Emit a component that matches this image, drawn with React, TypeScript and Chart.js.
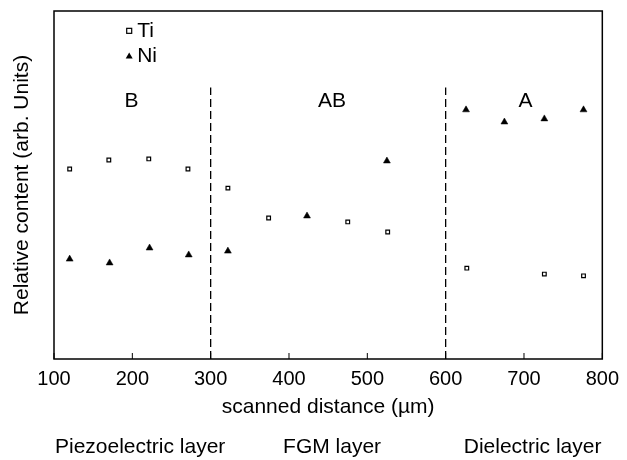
import React, { useEffect, useRef } from "react";
import { Chart, registerables } from "chart.js";

Chart.register(...registerables);

// Data (x in µm, y in arbitrary units 0..100)
const tiX = [120, 170, 221, 271, 322, 374, 475, 526, 627, 726, 776];
const tiY = [54.6, 57.2, 57.5, 54.6, 49.1, 40.5, 39.4, 36.5, 26.1, 24.4, 23.9];
const niX = [120, 171, 222, 272, 322, 423, 525, 626, 675, 726, 776];
const niY = [28.7, 27.6, 31.9, 29.9, 31.0, 41.1, 56.9, 71.6, 68.1, 69.0, 71.6];

const boundaries = [300, 600];
const boundaryTop = 78;

const regionNames = ["B", "AB", "A"];
const regionCenters = [199, 455, 702];
const layerNames = ["Piezoelectric layer", "FGM layer", "Dielectric layer"];
const layerCenters = [210, 455, 711];
const xTicks = [100, 200, 300, 400, 500, 600, 700, 800];

const FONT = "'Liberation Sans', Arial, Helvetica, sans-serif";

const overlay = {
  id: "overlay",
  afterDraw(chart: any) {
    const { ctx, chartArea: a, scales } = chart;
    const x = scales.x;
    const y = scales.y;
    ctx.save();
    // frame
    ctx.strokeStyle = "#000";
    ctx.lineWidth = 1.5;
    ctx.strokeRect(a.left, a.top, a.right - a.left, a.bottom - a.top);
    // inner ticks
    ctx.lineWidth = 1;
    xTicks.forEach((t) => {
      const px = x.getPixelForValue(t);
      ctx.beginPath();
      ctx.moveTo(px, a.bottom);
      ctx.lineTo(px, a.bottom - 6);
      ctx.stroke();
    });
    ctx.fillStyle = "#000";
    ctx.textAlign = "center";
    ctx.textBaseline = "middle";
    // region labels
    ctx.font = `21px ${FONT}`;
    regionNames.forEach((n, i) => {
      ctx.fillText(n, x.getPixelForValue(regionCenters[i]), y.getPixelForValue(74.1));
    });
    // legend
    const lx = x.getPixelForValue(196);
    ctx.textAlign = "left";
    const ty = y.getPixelForValue(94.3);
    const ny = y.getPixelForValue(87.1);
    ctx.lineWidth = 1.2;
    ctx.fillStyle = "#fff";
    ctx.fillRect(lx - 2.5, ty - 2.5, 5, 5);
    ctx.strokeRect(lx - 2.5, ty - 2.5, 5, 5);
    ctx.fillStyle = "#000";
    ctx.beginPath();
    ctx.moveTo(lx, ny - 3.5);
    ctx.lineTo(lx + 3.5, ny + 2.5);
    ctx.lineTo(lx - 3.5, ny + 2.5);
    ctx.closePath();
    ctx.fill();
    ctx.fillText("Ti", lx + 8, ty);
    ctx.fillText("Ni", lx + 8, ny);
    // axis titles
    ctx.textAlign = "center";
    ctx.font = `21px ${FONT}`;
    ctx.fillText("scanned distance (\u00b5m)", (a.left + a.right) / 2, 407);
    layerNames.forEach((n, i) => {
      ctx.fillText(n, x.getPixelForValue(layerCenters[i]), 447);
    });
    ctx.save();
    ctx.translate(22, (a.top + a.bottom) / 2);
    ctx.rotate(-Math.PI / 2);
    ctx.fillText("Relative content (arb. Units)", 0, 0);
    ctx.restore();
    ctx.restore();
  },
};

export default function App() {
  const ref = useRef<HTMLCanvasElement>(null);
  useEffect(() => {
    document.body.style.margin = "0";
    const boundaryData = boundaries.map((b) => [
      { x: b, y: 0 },
      { x: b, y: boundaryTop },
    ]);
    const chart = new Chart(ref.current!, {
      type: "scatter",
      data: {
        datasets: [
          {
            label: "Ti",
            data: tiX.map((v, i) => ({ x: v, y: tiY[i] })),
            pointStyle: "rect",
            pointRadius: 2.6,
            borderColor: "#000",
            backgroundColor: "#fff",
            borderWidth: 1.2,
          },
          {
            label: "Ni",
            data: niX.map((v, i) => ({ x: v, y: niY[i] })),
            pointStyle: "triangle",
            pointRadius: 4,
            borderColor: "#000",
            backgroundColor: "#000",
            borderWidth: 0.5,
          },
          ...boundaryData.map((d, i) => ({
            label: "boundary" + i,
            data: d,
            showLine: true,
            pointRadius: 0,
            borderColor: "#000",
            borderWidth: 1.3,
            borderDash: [8, 4],
          })),
        ],
      },
      options: {
        responsive: false,
        animation: false,
        layout: { padding: { top: 11, right: 21, left: 0, bottom: 0 } },
        plugins: { legend: { display: false }, tooltip: { enabled: false } },
        scales: {
          x: {
            type: "linear",
            min: 100,
            max: 800,
            afterBuildTicks: (s: any) => {
              s.ticks = xTicks.map((v) => ({ value: v }));
            },
            grid: { display: false, drawTicks: false },
            border: { display: false },
            ticks: {
              color: "#000",
              font: { family: FONT, size: 20 },
              padding: 8,
              maxRotation: 0,
            },
            afterFit: (s: any) => {
              s.height = 101;
            },
          },
          y: {
            type: "linear",
            min: 0,
            max: 100,
            grid: { display: false, drawTicks: false },
            border: { display: false },
            ticks: { display: false },
            afterFit: (s: any) => {
              s.width = 54;
            },
          },
        },
      },
      plugins: [overlay],
    } as any);
    return () => chart.destroy();
  }, []);
  return (
    <div style={{ width: 627, height: 460 }}>
      <canvas ref={ref} width={627} height={460} />
    </div>
  );
}
